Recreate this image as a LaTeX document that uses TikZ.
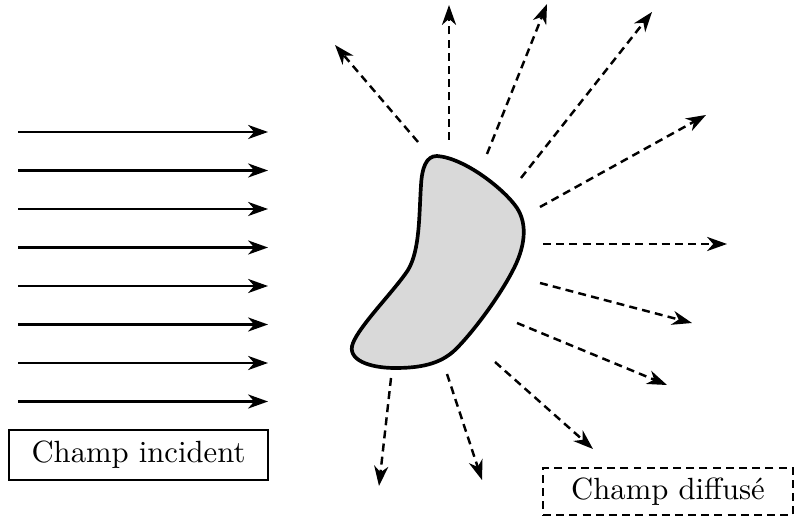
\documentclass[tikz,border=0pt]{standalone}
\usetikzlibrary{arrows.meta}
\tikzset{
  wave/.style={-{Stealth[length=6.5pt,width=4.6pt,inset=2pt]},line width=0.7pt},
  scattered/.style={wave,line width=0.8pt,dash pattern=on 2.6pt off 1.7pt},
  body/.style={draw,line width=1.2pt,fill=black!15},
  fieldbox/.style={draw,line width=0.9pt,inner sep=0pt}
}
\begin{document}
\begin{tikzpicture}[x=0.326pt,y=-0.326pt]
  \useasboundingbox (0,0) rectangle (795,519);

  % incident plane wave
  \foreach \y in {132,170.5,209,247.5,286,324.5,363,401.5}
    \draw[wave] (18,\y) -- (268,\y);

  % scatterer
  \draw[body] (437,156) .. controls (426,156) and (422,168) .. (421,185)
    .. controls (419,215) and (420,250) .. (408,270)
    .. controls (395,290) and (360,325) .. (353,343)
    .. controls (346,360) and (370,368) .. (395,368)
    .. controls (418,368) and (440,365) .. (456,349)
    .. controls (475,330) and (500,295) .. (512,272)
    .. controls (525,248) and (528,225) .. (517,208)
    .. controls (505,190) and (465,158) .. (437,156) -- cycle;

  % scattered field
  \foreach \sx/\sy/\ex/\ey in {418/142/335/45, 449/140/449/5, 487/154/547/4,
      521/178/652/12, 540/207/706/115, 543/244/727/244, 540/283/692/323,
      517/323/667/385, 495/362/593/449, 447/374/482/480, 391/378/379/486}
    \draw[scattered] (\sx,\sy) -- (\ex,\ey);

  % labels
  \node[fieldbox,minimum width=84.4pt,minimum height=16.3pt] (inc) at (138.5,455) {Champ incident};
  \node[fieldbox,dash pattern=on 2.6pt off 1.7pt,minimum width=81.5pt,minimum height=15.3pt] (dif) at (668,491.5) {Champ diffusé};
\end{tikzpicture}
\end{document}
